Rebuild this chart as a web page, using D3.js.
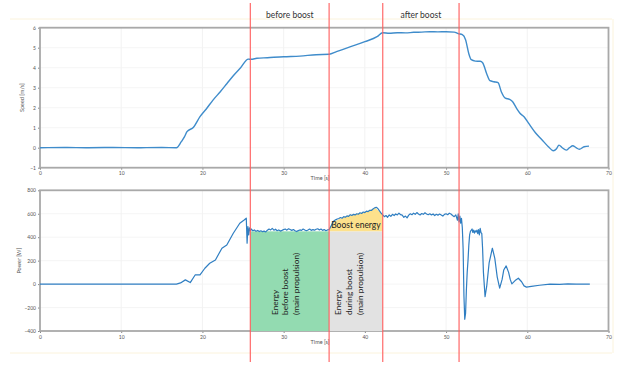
<!DOCTYPE html>
<html><head><meta charset="utf-8">
<script src="https://cdn.jsdelivr.net/npm/d3@7"></script>
<style>
html,body{margin:0;padding:0;background:#fff;}
svg{display:block;}
text{font-family:Lato,"Liberation Sans",sans-serif;}
</style></head>
<body>
<script>
// ---- data ----
const xTicks = [0,10,20,30,40,50,60,70];
const speedTicks = [-1,0,1,2,3,4,5,6];
const powerTicks = [-400,-200,0,200,400,600,800];
const phaseTimes = [25.9, 35.6, 42.2, 51.6];
const phaseLabels = [{text:"before boost", from:25.9, to:35.6},{text:"after boost", from:42.2, to:51.6}];

const speedPoints = [[0,0],[3,0.01],[6,0],[9,0.01],[12,0],[15,0.01],[16.8,0],[17.4,0.3],[17.8,0.55],[18.1,0.8],[18.9,1.02],
[19.7,1.55],[20.5,1.95],[21.3,2.38],[22.2,2.8],[23,3.2],[23.8,3.6],[24.7,4.0],[25.65,4.43],[26.0,4.42],[26.7,4.47],[28,4.5],
[30,4.55],[32,4.58],[34,4.65],[35.6,4.67],[36.5,4.8],[38,5.02],[40,5.3],[41.5,5.55],[42.2,5.75],[43,5.72],[44,5.75],[45,5.74],
[46,5.77],[47,5.78],[48,5.8],[49,5.79],[50,5.8],[51,5.78],[51.5,5.7],[52.0,5.65],[52.4,5.4],[52.8,4.7],[53.1,4.4],[53.6,4.33],
[54.2,4.32],[54.5,4.25],[55.0,3.7],[55.4,3.35],[55.9,3.3],[56.4,3.25],[56.8,2.8],[57.3,2.48],[57.8,2.42],[58.2,2.3],[58.7,1.95],
[59.1,1.72],[59.6,1.55],[60.2,1.2],[61,0.75],[61.8,0.4],[62.6,0.05],[63.2,-0.15],[63.6,-0.05],[63.9,0.13],[64.3,0.0],[64.8,-0.12],
[65.2,0.0],[65.6,0.1],[66.0,0.0],[66.4,-0.08],[67.0,0.05],[67.6,0.08]];

const powerRamp = [[0,0],[16.8,0],[17.3,10],[17.9,36],[18.5,13],[19.1,78],[19.7,78],[20.3,135],[20.9,178],[21.6,206],[22.4,306],
[23,334],[23.8,434],[24.6,519],[25.1,545],[25.4,562],[25.5,349],[25.6,490],[25.7,420],[25.8,480],[25.9,455]];
const powerBefore = [[26.0,470],[26.2,455],[26.4,462],[26.6,450],[26.8,458],[27.0,448],[27.2,455],[27.4,447],[27.6,452],[27.8,445],
[28.0,460],[28.2,470],[28.4,462],[28.6,475],[28.8,460],[29.0,468],[29.2,455],[29.4,462],[29.6,452],[29.8,458],[30.0,465],[30.2,470],
[30.4,460],[30.6,472],[30.8,465],[31.0,458],[31.2,465],[31.4,455],[31.6,448],[31.8,456],[32.0,462],[32.2,458],[32.4,470],[32.6,462],
[32.8,455],[33.0,462],[33.2,470],[33.4,458],[33.6,465],[33.8,460],[34.0,468],[34.2,472],[34.4,462],[34.6,470],[34.8,458],[35.0,465],
[35.2,455],[35.4,462]];
const powerBoost = [[35.6,465],[35.8,490],[36.0,520],[36.2,540],[36.4,548],[36.6,555],[36.8,560],[37.0,568],[37.2,562],[37.4,575],
[37.6,570],[37.8,582],[38.0,578],[38.2,592],[38.4,585],[38.6,595],[38.8,590],[39.0,600],[39.2,596],[39.4,608],[39.6,602],[39.8,615],
[40.0,610],[40.2,622],[40.4,618],[40.6,630],[40.8,628],[41.0,640],[41.2,650],[41.4,655],[41.6,645],[41.8,625],[42.0,605],[42.2,590]];
const powerAfter = [[42.4,575],[42.6,585],[42.8,570],[43.0,590],[43.2,578],[43.4,595],[43.6,585],[43.8,598],[44.0,590],[44.2,605],
[44.4,592],[44.6,588],[44.8,570],[45.0,580],[45.2,565],[45.4,588],[45.6,600],[45.8,592],[46.0,605],[46.2,595],[46.4,610],[46.6,598],
[46.8,590],[47.0,602],[47.2,595],[47.4,608],[47.6,598],[47.8,592],[48.0,600],[48.2,590],[48.4,598],[48.6,585],[48.8,595],[49.0,588],
[49.2,598],[49.4,590],[49.6,580],[49.8,595],[50.0,600],[50.2,592],[50.4,605],[50.6,598],[50.8,585],[51.0,575],[51.2,590],[51.4,545],
[51.5,600],[51.6,530],[51.7,580],[51.8,520],[51.9,560],[52.0,480]];
const powerStop = [[52.1,300],[52.2,-100],[52.3,-300],[52.4,-250],[52.5,-50],[52.6,100],[52.7,200],[52.8,330],[52.9,420],[53.0,450],
[53.2,470],[53.3,440],[53.4,460],[53.5,435],[53.6,455],[53.7,445],[53.8,460],[53.9,430],[54.0,465],[54.1,420],[54.2,475],[54.3,440],
[54.4,430],[54.5,300],[54.6,100],[54.8,-107],[55.0,-20],[55.3,180],[55.7,306],[56.0,220],[56.3,60],[56.6,-35],[56.9,40],[57.1,120],
[57.4,155],[57.7,100],[57.9,40],[58.1,2],[58.5,30],[58.9,50],[59.3,20],[59.6,-15],[59.9,-26],[60.5,-20],[61.5,-10],[62.8,0],[64,-2],
[65,2],[66,0],[67.7,0]];

const energyBaseline = 450;
const boostTop = [[35.6,460],[36.1,530],[37,560],[38,585],[39,600],[40,615],[41.3,650],[42.2,595]];
const areaLabels = {
  before: ["Energy","before boost","(main propulsion)"],
  during: ["Energy","during boost","(main propulsion)"],
  boost: "Boost energy"
};

// ---- layout ----
const W = 618, H = 365;
const svg = d3.select("body").append("svg").attr("width", W).attr("height", H);
const x = d3.scaleLinear().domain([0,70]).range([40, 608.5]);
const ySpeed = d3.scaleLinear().domain([-1,6]).range([167.7, 27.7]);
const yPower = d3.scaleLinear().domain([-400,800]).range([331, 190.3]);

// faint frame of document
svg.append("line").attr("x1",10).attr("x2",612).attr("y1",19).attr("y2",19).attr("stroke","#fbf3dc").attr("stroke-width",1);
svg.append("line").attr("x1",10).attr("x2",612).attr("y1",353).attr("y2",353).attr("stroke","#fbf3dc").attr("stroke-width",1);
svg.append("line").attr("x1",613).attr("x2",613).attr("y1",19).attr("y2",353).attr("stroke","#fbf3dc").attr("stroke-width",1);

function panel(y, ticks, label, labelX) {
  const g = svg.append("g");
  const [y0, y1] = y.range();
  // grid
  g.selectAll(".gx").data(xTicks.slice(1,-1)).join("line")
    .attr("x1", d=>x(d)).attr("x2", d=>x(d)).attr("y1", y1).attr("y2", y0)
    .attr("stroke","#efefef").attr("stroke-width",0.8);
  g.selectAll(".gy").data(ticks.slice(1,-1)).join("line")
    .attr("x1", x(0)).attr("x2", x(70)).attr("y1", d=>y(d)).attr("y2", d=>y(d))
    .attr("stroke","#f2f2f2").attr("stroke-width",0.8);
  // axes
  const ax = g.append("g").attr("transform",`translate(0,${y0})`)
    .call(d3.axisBottom(x).tickValues(xTicks).tickSize(2).tickPadding(2));
  const ay = g.append("g").attr("transform",`translate(${x(0)},0)`)
    .call(d3.axisLeft(y).tickValues(ticks).tickSize(2).tickPadding(2).tickFormat(d=> d<0 ? "\u2212"+Math.abs(d) : d));
  [ax, ay].forEach(a=>{
    a.select(".domain").remove();
    a.selectAll("line").attr("stroke","#888");
    a.selectAll("text").attr("font-size",5).attr("fill","#555").attr("font-family","'Liberation Sans',sans-serif");
  });
  // frame
  g.append("rect").attr("x", x(0)).attr("y", y1).attr("width", x(70)-x(0)).attr("height", y0-y1)
    .attr("fill","none").attr("stroke","#a9a9a9").attr("stroke-width",1.8);
  g.append("text").attr("x", 320).attr("y", y0+12.5).attr("text-anchor","middle")
    .attr("font-size",5.5).attr("fill","#555").attr("font-family","'Liberation Sans',sans-serif").text("Time [s]");
  g.append("text").attr("transform",`translate(${labelX},${(y0+y1)/2}) rotate(-90)`).attr("text-anchor","middle")
    .attr("font-size",5.5).attr("fill","#555").attr("font-family","'Liberation Sans',sans-serif").text(label);
  return g;
}

const gTop = panel(ySpeed, speedTicks, "Speed [m/s]", 24);
const gBot = panel(yPower, powerTicks, "Power [W]", 21);

// energy areas (bottom)
gBot.append("rect").attr("x", x(phaseTimes[0])).attr("width", x(phaseTimes[1])-x(phaseTimes[0]))
  .attr("y", yPower(energyBaseline)).attr("height", yPower(-400)-yPower(energyBaseline)).attr("fill","#93dbb1");
gBot.append("rect").attr("x", x(phaseTimes[1])).attr("width", x(phaseTimes[2])-x(phaseTimes[1]))
  .attr("y", yPower(energyBaseline)).attr("height", yPower(-400)-yPower(energyBaseline)).attr("fill","#e2e2e2");
gBot.append("path").datum(boostTop)
  .attr("d", d3.area().x(d=>x(d[0])).y0(yPower(energyBaseline)).y1(d=>yPower(d[1])))
  .attr("fill","#fde18c");

// lines
const lineS = d3.line().x(d=>x(d[0])).y(d=>ySpeed(d[1])).curve(d3.curveMonotoneX);
gTop.append("path").datum(speedPoints).attr("d", lineS).attr("fill","none").attr("stroke","#3f8ccb").attr("stroke-width",1.4);

const powerPoints = [].concat(powerRamp, powerBefore, powerBoost, powerAfter, powerStop);
const lineP = d3.line().x(d=>x(d[0])).y(d=>yPower(d[1]));
gBot.append("path").datum(powerPoints).attr("d", lineP).attr("fill","none").attr("stroke","#2f7ec2").attr("stroke-width",1.2).attr("stroke-linejoin","round");

// area labels
function vLabel(lines, x0, yBottom, gap) {
  lines.forEach((t,i)=>{
    gBot.append("text").attr("transform",`translate(${x0 + i*gap},${yBottom}) rotate(-90)`)
      .attr("font-size",8.3).attr("fill","#222").text(t);
  });
}
vLabel(areaLabels.before, 278, 315, 10.3);
vLabel(areaLabels.during, 341, 315, 11);
gBot.append("text").attr("x", (x(phaseTimes[1])+x(phaseTimes[2]))/2).attr("y", 228).attr("text-anchor","middle")
  .attr("font-size",8.5).attr("fill","#222").text(areaLabels.boost);

// phase lines
svg.selectAll(".phase").data(phaseTimes).join("line")
  .attr("x1", d=>x(d)).attr("x2", d=>x(d)).attr("y1", 3).attr("y2", 362)
  .attr("stroke","#ff5c5c").attr("stroke-opacity",0.85).attr("stroke-width",1.3);
svg.selectAll(".plab").data(phaseLabels).join("text")
  .attr("x", d=>(x(d.from)+x(d.to))/2).attr("y", 18).attr("text-anchor","middle")
  .attr("font-size",8.5).attr("fill","#333").text(d=>d.text);
</script>
</body></html>
